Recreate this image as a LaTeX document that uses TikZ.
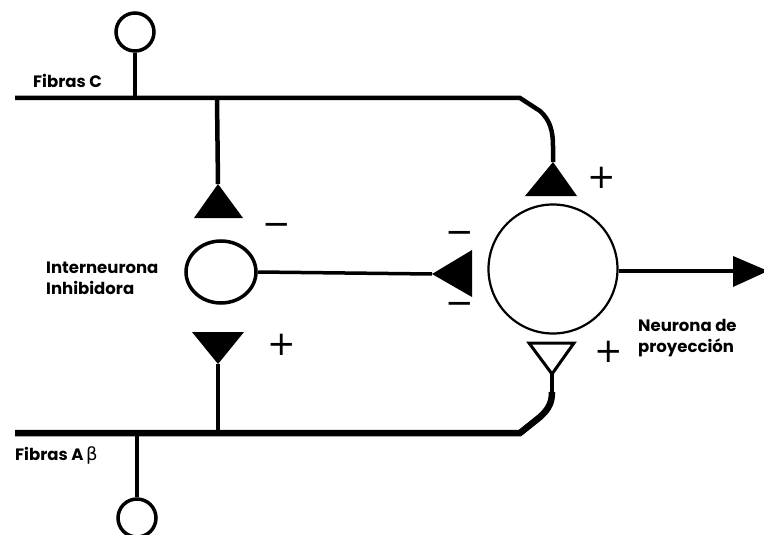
\documentclass[tikz,border=0pt]{standalone}
\usepackage{fontspec}
\setmainfont{Poppins}
\newfontfamily\signfont{DejaVu Sans}
\newfontfamily\greekfont{DejaVu Sans}
\usetikzlibrary{shapes.geometric}
\begin{document}
\begin{tikzpicture}[x=1pt,y=-1pt,
  soma/.style={circle,draw,inner sep=0pt},
  fibre/.style={line width=4.5pt},
  thickfibre/.style={line width=6.5pt},
  axon/.style={line width=3.5pt},
  label/.style={font=\bfseries\fontsize{16.5}{21}\selectfont,align=left,inner sep=0pt},
  sign/.style={font=\signfont\fontsize{34}{34}\selectfont,inner sep=0pt}]
\useasboundingbox (0,0) rectangle (764,535);

% cell bodies
\node[soma,line width=3.5pt,minimum size=38pt] (cTop) at (135,32) {};
\node[soma,line width=3.5pt,minimum size=38pt] (cBot) at (137,518) {};
\node[ellipse,draw,inner sep=0pt,line width=3.5pt,minimum width=70pt,minimum height=62pt] (inter) at (221,272) {};
\node[soma,line width=2.2pt,minimum size=129pt] (proj) at (553,269) {};

% synaptic terminals
\coordinate (synC) at (553,162);
\fill (synC) -- (577,196) -- (525,196) -- cycle;
\coordinate (inhC) at (218,184);
\fill (inhC) -- (243,218) -- (194,218) -- cycle;
\coordinate (inhOut) at (432,274);
\fill (inhOut) -- (472,250) -- (472,297) -- cycle;
\coordinate (inhAb) at (218,364);
\fill (inhAb) -- (244,332) -- (192,332) -- cycle;
\coordinate (synAb) at (552,374);
\draw[line width=3pt,line join=miter] (synAb) -- (574,343) -- (529,343) -- cycle;
\coordinate (outBase) at (733,271);
\fill (733,256) -- (768,271) -- (733,287) -- cycle;

% fibres
\coordinate (fcL) at (15,98);
\coordinate (fcJ) at (135,98);
\coordinate (fcI) at (217,98);
\draw[fibre] (fcL) -- (520,98) -- (540,111)
  .. controls (550,120) and (553,131) .. (553,146) -- (synC);
\draw[fibre] (cTop.south) -- (fcJ);
\draw[fibre] (fcI) -- (inhC);

\coordinate (fbL) at (15,433);
\coordinate (fbJ) at (137,433);
\coordinate (fbI) at (218,433);
\draw[thickfibre] (fbL) -- (520,433) -- (540,417)
  .. controls (549,409) and (552,402) .. (552,392);
\draw[fibre] (552,394) -- (synAb);
\draw[fibre] (cBot.north) -- (fbJ);
\draw[fibre] (inhAb) -- (fbI);

% axons
\draw[axon] (inter.east) -- (inhOut);
\draw[axon] (proj.east |- outBase) -- (outBase);

% signs
\node[sign] (mInhC) at (277,229) {−};
\node[sign] (pInhAb) at (282,345) {+};
\node[sign] (mOutUp) at (460,237) {−};
\node[sign] (mOutDn) at (460,308) {−};
\node[sign] (pSynC) at (602,178) {+};
\node[sign] (pSynAb) at (609,352) {+};

% labels
\node[label,anchor=base west] (lC) at (33,88) {Fibras C};
\node[label,anchor=base west] (lAb) at (15,460) {Fibras A\,{\mdseries\greekfont\fontsize{18}{21}\selectfont β}};
\node[label,anchor=west] (lInter) at (46,278) {Interneurona\\Inhibidora};
\node[label,anchor=west] (lProj) at (638,338) {Neurona de\\proyección};
\end{tikzpicture}
\end{document}
